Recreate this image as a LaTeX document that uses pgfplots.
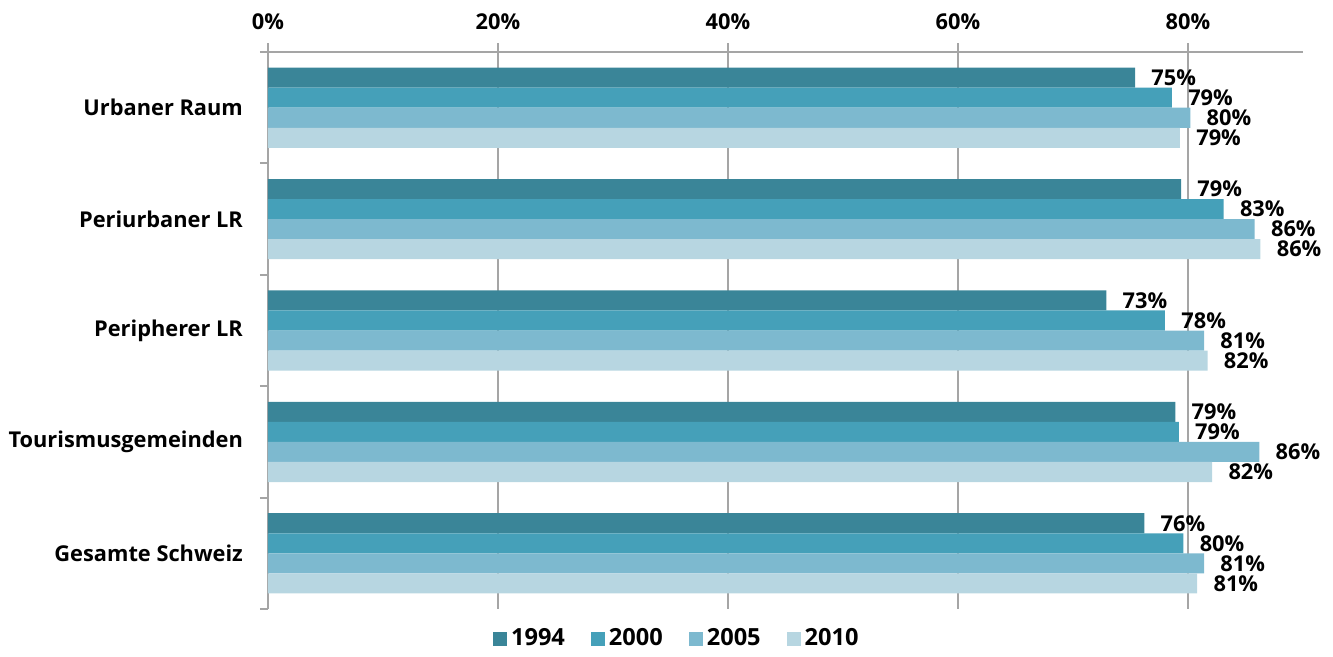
\documentclass[border=0pt]{standalone}
\usepackage{pgfplots}
\pgfplotsset{compat=1.18}
\usepackage{fontspec}
\setmainfont{Open Sans}
\definecolor{c1}{RGB}{58,133,152}
\definecolor{c2}{RGB}{69,160,185}
\definecolor{c3}{RGB}{125,185,207}
\definecolor{c4}{RGB}{183,214,225}
\definecolor{axgray}{RGB}{165,165,165}
\begin{document}
\begin{tikzpicture}
\begin{axis}[
  scale only axis, width=517.5pt, height=278.5pt,
  xbar, bar width=0.18,
  xmin=0, xmax=90, ymin=-0.5, ymax=4.5, y dir=reverse,
  axis x line*=top, axis y line*=left,
  axis line style={draw=axgray, line width=1pt},
  xtick={0,20,40,60,80},
  xticklabels={0\%,20\%,40\%,60\%,80\%},
  xmajorgrids, grid style={draw=axgray, line width=0.9pt},
  ytick={0,1,2,3,4},
  yticklabels={Urbaner Raum,Periurbaner LR,Peripherer LR,Tourismusgemeinden,Gesamte Schweiz},
  minor ytick={-0.5,0.5,1.5,2.5,3.5,4.5},
  tick align=outside,
  major tick length=4.5pt, minor tick length=4pt,
  major x tick style={draw=axgray, line width=1pt},
  major y tick style={draw=none},
  minor y tick style={draw=axgray, line width=1pt},
  tick label style={font=\fontsize{10.9}{13}\selectfont\bfseries},
  y tick label style={xshift=-4.5pt},
  x tick label style={yshift=3pt},
  /pgf/number format/assume math mode=true,
  point meta=x,
  nodes near coords={\pgfmathprintnumber[fixed,precision=0]{\pgfplotspointmeta}\%},
  nodes near coords style={anchor=west, xshift=7pt, font=\fontsize{10.9}{13}\selectfont\bfseries, inner sep=1pt},
  legend columns=4,
  legend style={at={(0.396,-0.02)}, anchor=north, draw=none, font=\fontsize{11.8}{14}\selectfont\bfseries,
    /tikz/every even column/.append style={column sep=11pt}},
  legend image code/.code={\fill[#1] (0pt,-3.5pt) rectangle (7pt,3.5pt);},
  clip=false,
]
\addplot[fill=c1, draw=none, bar shift=-0.27] coordinates {(75.4,0) (79.4,1) (72.9,2) (78.9,3) (76.2,4)};
\addplot[fill=c2, draw=none, bar shift=-0.09] coordinates {(78.6,0) (83.1,1) (78.0,2) (79.2,3) (79.6,4)};
\addplot[fill=c3, draw=none, bar shift=0.09] coordinates {(80.2,0) (85.8,1) (81.4,2) (86.2,3) (81.4,4)};
\addplot[fill=c4, draw=none, bar shift=0.27] coordinates {(79.3,0) (86.3,1) (81.7,2) (82.1,3) (80.8,4)};
\legend{1994,2000,2005,2010}
\path (rel axis cs:-0.2589,-0.061) rectangle (rel axis cs:1.029,1.0934);
\end{axis}
\end{tikzpicture}
\end{document}
